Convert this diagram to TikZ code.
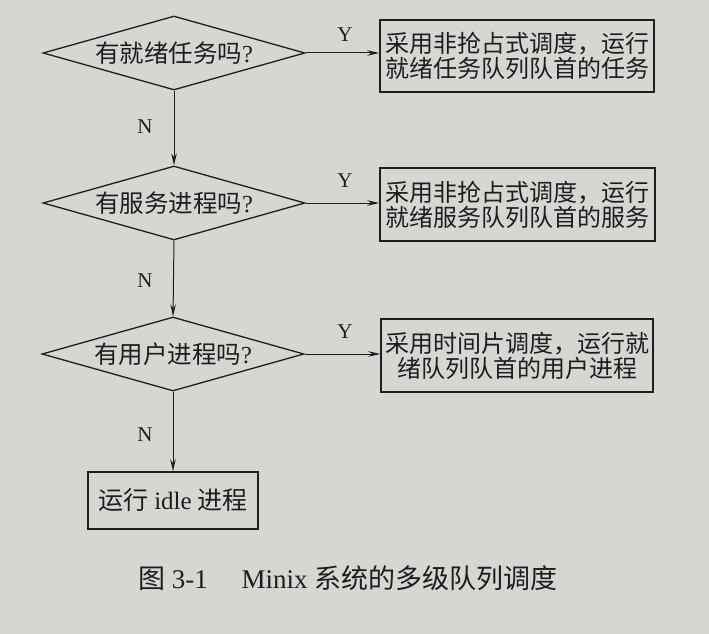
\documentclass[tikz,border=0pt]{standalone}
\usepackage{fontspec}
\setmainfont{Liberation Serif}
\newfontfamily\cjk{Noto Sans CJK SC}
\usetikzlibrary{shapes.geometric,arrows.meta}
\definecolor{paper}{RGB}{216,214,211}
\definecolor{ink}{RGB}{30,30,30}
\tikzset{
  decision/.style={diamond, draw=ink, line width=1.3pt, inner sep=0pt,
    minimum width=262pt, minimum height=74pt, aspect=3.5,
    font=\fontsize{24.5}{26}\selectfont, text=ink},
  action/.style={rectangle, draw=ink, line width=1.5pt, inner sep=0pt,
    align=center, font=\fontsize{24}{25}\selectfont\cjk, text=ink},
  flow/.style={draw=ink, line width=1pt, -{Stealth[length=12pt,width=5.5pt]}},
  yn/.style={font=\fontsize{21}{21}\selectfont, text=ink, inner sep=0pt}
}
\begin{document}
\begin{tikzpicture}[x=1pt,y=-1pt]
  \fill[paper] (0,0) rectangle (709,634);
  \useasboundingbox (0,0) rectangle (709,634);

  % decisions
  \node[decision] (d1) at (174,53)  {{\cjk 有就绪任务吗}?};
  \node[decision] (d2) at (174,203) {{\cjk 有服务进程吗}?};
  \node[decision] (d3) at (173,354) {{\cjk 有用户进程吗}?};

  % actions
  \node[action, minimum width=274pt, minimum height=72pt] (a1) at (517,56)
    {采用非抢占式调度，运行\\就绪任务队列队首的任务};
  \node[action, minimum width=275pt, minimum height=73pt] (a2) at (517.5,204.5)
    {采用非抢占式调度，运行\\就绪服务队列队首的服务};
  \node[action, minimum width=272pt, minimum height=73pt] (a3) at (517,355.5)
    {采用时间片调度，运行就\\绪队列队首的用户进程};
  \node[action, font=\fontsize{25}{26}\selectfont, minimum width=170pt, minimum height=57pt] (idle) at (173,500.5)
    {{\cjk 运行} idle {\cjk 进程}};

  % yes branches
  \draw[flow] (d1.east) -- (a1.west |- d1.east);
  \draw[flow] (d2.east) -- (a2.west |- d2.east);
  \draw[flow] (d3.east) -- (a3.west |- d3.east);
  \node[yn] (y1) at (345,35)  {Y};
  \node[yn] (y2) at (345,181) {Y};
  \node[yn] (y3) at (345,332) {Y};

  % no branches
  \draw[flow] (d1.south) -- (d2.north);
  \draw[flow] (d2.south) -- (d3.north);
  \draw[flow] (d3.south) -- (idle.north);
  \node[yn] (n1) at (145,127) {N};
  \node[yn] (n2) at (145,281) {N};
  \node[yn] (n3) at (145,435) {N};

  % caption
  \node[font=\fontsize{27}{27}\selectfont, text=ink, anchor=west, inner sep=0pt] (cap) at (138,578)
    {{\cjk 图} 3-1\hspace{1.25em}Minix {\cjk 系统的多级队列调度}};
\end{tikzpicture}
\end{document}
